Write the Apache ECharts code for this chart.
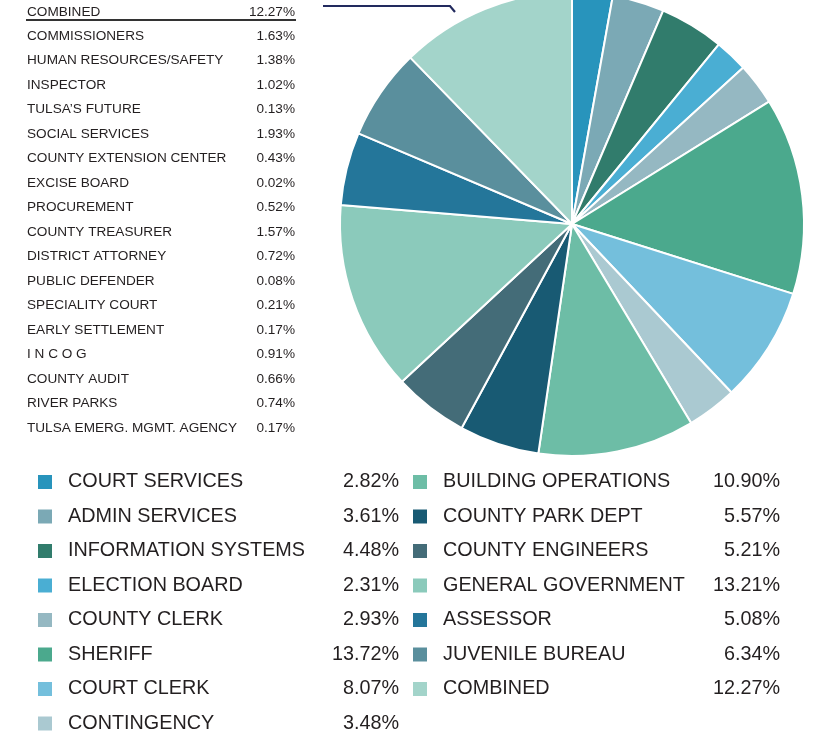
<!DOCTYPE html>
<html>
<head>
    <meta charset="utf-8">
    <title>ECharts</title>
    <script src="https://cdn.jsdelivr.net/npm/echarts@6/dist/echarts.min.js"></script>
    <style>
        html, body { margin: 0; padding: 0; background: #fff; }
    </style>
</head>
<body>
<div id="main" style="width: 817px;height:734px;"></div>
<script type="text/javascript">
    // 饼图数据
    var names = ['COURT SERVICES', 'ADMIN SERVICES', 'INFORMATION SYSTEMS', 'ELECTION BOARD',
        'COUNTY CLERK', 'SHERIFF', 'COURT CLERK', 'CONTINGENCY', 'BUILDING OPERATIONS',
        'COUNTY PARK DEPT', 'COUNTY ENGINEERS', 'GENERAL GOVERNMENT', 'ASSESSOR',
        'JUVENILE BUREAU', 'COMBINED'];
    var values = [2.82, 3.61, 4.48, 2.31, 2.93, 13.72, 8.07, 3.48, 10.90, 5.57, 5.21, 13.21, 5.08, 6.34, 12.27];
    var colors = ['#2894bc', '#7ba9b5', '#317c6c', '#4aaed3', '#95b8c2', '#4ba98d', '#74bfdc', '#aac9d1',
        '#6dbda6', '#185a73', '#446c78', '#8bcabb', '#24769a', '#5a8f9d', '#a3d4ca'];

    // COMBINED 明细表
    var combinedNames = ['COMMISSIONERS', 'HUMAN RESOURCES/SAFETY', 'INSPECTOR', 'TULSA\u2019S FUTURE',
        'SOCIAL SERVICES', 'COUNTY EXTENSION CENTER', 'EXCISE BOARD', 'PROCUREMENT', 'COUNTY TREASURER',
        'DISTRICT ATTORNEY', 'PUBLIC DEFENDER', 'SPECIALITY COURT', 'EARLY SETTLEMENT', 'I N C O G',
        'COUNTY AUDIT', 'RIVER PARKS', 'TULSA EMERG. MGMT. AGENCY'];
    var combinedValues = [1.63, 1.38, 1.02, 0.13, 1.93, 0.43, 0.02, 0.52, 1.57, 0.72, 0.08, 0.21, 0.17, 0.91, 0.66, 0.74, 0.17];

    var myChart = echarts.init(document.getElementById('main'));

    var pieData = [];
    for (var i = 0; i < names.length; i++) {
        pieData.push({name: names[i], value: values[i], itemStyle: {color: colors[i]}});
    }

    function legendFmt(name) {
        var v = values[names.indexOf(name)];
        return '{n|' + name + '}{v|' + v.toFixed(2) + '%}';
    }

    var txtColor = '#231f20';
    var legendText = function (nw, vw) {
        return {
            color: txtColor,
            fontFamily: 'Liberation Sans, Arial, sans-serif',
            fontSize: 20,
            rich: {
                n: {width: nw, fontSize: 19.8, lineHeight: 20, padding: [0, 0, 0, 11], color: txtColor},
                v: {width: vw, fontSize: 19.8, lineHeight: 20, align: 'right', color: txtColor}
            }
        };
    };

    // 左上角表格
    var font = '13.6px "Liberation Sans", Arial, sans-serif';
    var graphics = [];
    var rows = [['COMBINED', 12.27]];
    for (var j = 0; j < combinedNames.length; j++) rows.push([combinedNames[j], combinedValues[j]]);
    for (var k = 0; k < rows.length; k++) {
        var y = k == 0 ? 12 : 36 + (k - 1) * 24.5;
        graphics.push({type: 'text', x: 27, y: y,
            style: {text: rows[k][0], font: font, fill: txtColor, textVerticalAlign: 'middle'}});
        graphics.push({type: 'text', x: 295, y: y,
            style: {text: rows[k][1].toFixed(2) + '%', font: font, fill: txtColor,
                textAlign: 'right', textVerticalAlign: 'middle'}});
    }
    graphics.push({type: 'line', shape: {x1: 26, y1: 20, x2: 296, y2: 20},
        style: {stroke: '#333', lineWidth: 2}});
    // 引线
    graphics.push({type: 'polyline', shape: {points: [[323, 6], [450, 6], [455, 12]]},
        style: {stroke: '#222a5e', lineWidth: 2.2, fill: null}});

    var option = {
        animation: false,
        color: colors,
        graphic: graphics,
        legend: [
            {
                orient: 'vertical', left: 38, top: 472, padding: 0,
                itemWidth: 14, itemHeight: 14, itemGap: 14.5, icon: 'rect',
                itemStyle: {borderWidth: 0},
                selectedMode: false,
                data: names.slice(0, 8),
                formatter: legendFmt,
                textStyle: legendText(250, 81)
            },
            {
                orient: 'vertical', left: 413, top: 472, padding: 0,
                itemWidth: 14, itemHeight: 14, itemGap: 14.5, icon: 'rect',
                itemStyle: {borderWidth: 0},
                selectedMode: false,
                data: names.slice(8),
                formatter: legendFmt,
                textStyle: legendText(260, 77)
            }
        ],
        series: [
            {
                type: 'pie',
                center: [572, 224],
                radius: 232,
                startAngle: 90,
                clockwise: true,
                silent: true,
                label: {show: false},
                labelLine: {show: false},
                itemStyle: {borderColor: '#fff', borderWidth: 2},
                data: pieData
            }
        ]
    };

    myChart.setOption(option);
</script>
</body>
</html>
